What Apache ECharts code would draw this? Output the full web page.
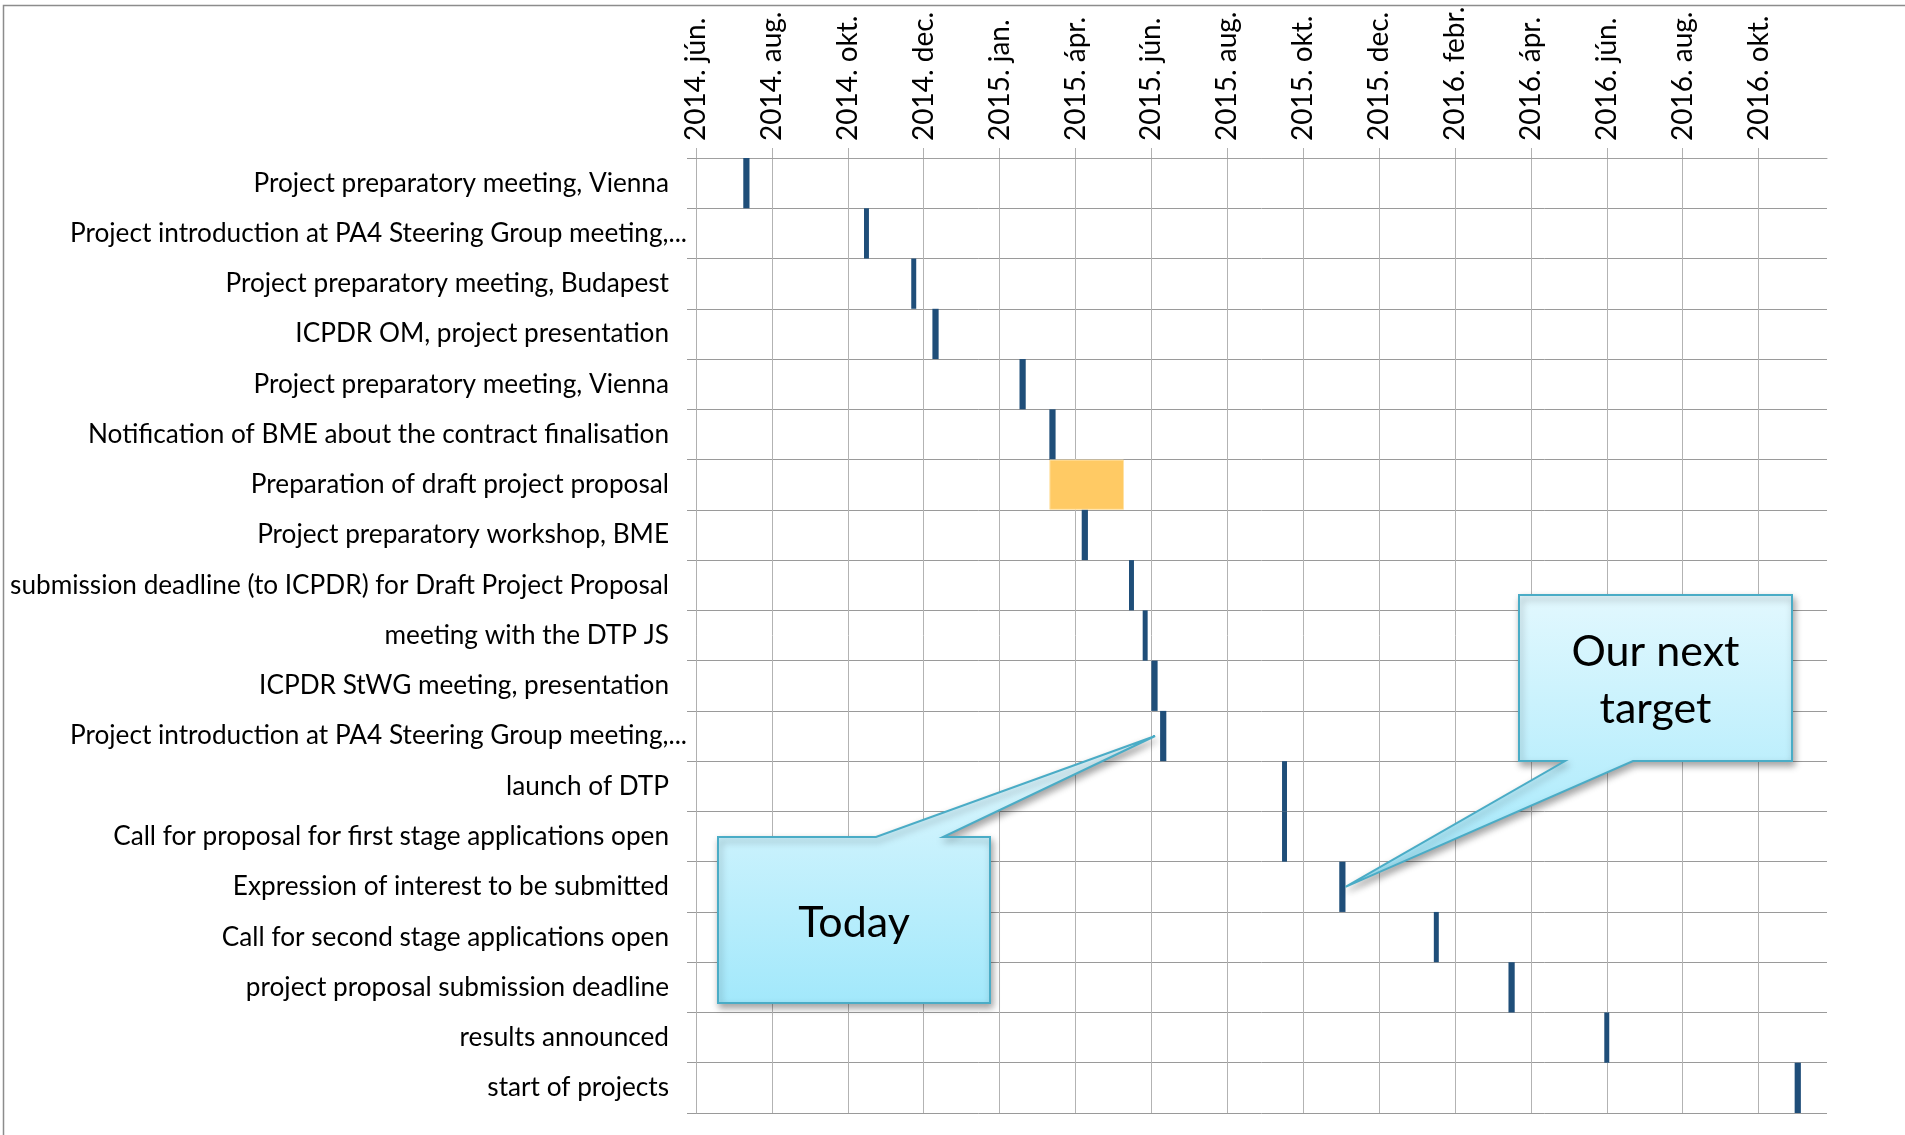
<!DOCTYPE html>
<html><head><meta charset="utf-8">
<script src="https://cdn.jsdelivr.net/npm/echarts@6/dist/echarts.min.js"></script>
<style>html,body{margin:0;padding:0;background:#fff}#c{width:1905px;height:1135px}</style>
</head><body><div id="c"></div>
<script>
// ---------- data ----------
const tasks = [
  'Project preparatory meeting, Vienna',
  'Project introduction at PA4 Steering Group meeting,...',
  'Project preparatory meeting, Budapest',
  'ICPDR OM, project presentation',
  'Project preparatory meeting, Vienna',
  'Notification of BME about the contract finalisation',
  'Preparation of draft project proposal',
  'Project preparatory workshop, BME',
  'submission deadline (to ICPDR) for Draft Project Proposal',
  'meeting with the DTP JS',
  'ICPDR StWG meeting, presentation',
  'Project introduction at PA4 Steering Group meeting,...',
  'launch of DTP',
  'Call for proposal for first stage applications open',
  'Expression of interest to be submitted',
  'Call for second stage applications open',
  'project proposal submission deadline',
  'results announced',
  'start of projects'
];
const startDates = [
  '2014-07-09','2014-10-14','2014-11-21','2014-12-08','2015-02-16','2015-03-12',
  '2015-03-12','2015-04-07','2015-05-15','2015-05-26','2015-06-02','2015-06-09',
  '2015-09-15','2015-09-15','2015-10-31','2016-01-15','2016-03-15','2016-05-31','2016-10-31'
];
const durations = [5,4,4,5,5,5,60,5,4,4,5,5,4,4,5,4,5,4,5];
const kinds = ['m','m','m','m','m','m','phase','m','m','m','m','m','m','m','m','m','m','m','m'];
const axisStart = '2014-06-01';
const axisEndDays = 909;
const tickStep = 61;
const tickLabels = ['2014. jún.','2014. aug.','2014. okt.','2014. dec.','2015. jan.','2015. ápr.',
  '2015. jún.','2015. aug.','2015. okt.','2015. dec.','2016. febr.','2016. ápr.','2016. jún.',
  '2016. aug.','2016. okt.'];
const todayCallout = {text: 'Today', date: '2015-06-05', row: 11};
const targetCallout = {text: 'Our next\ntarget', date: '2015-11-05', row: 14};

// ---------- helpers ----------
const DAY = 86400000;
function parseD(s){const [y,m,d]=s.split('-').map(Number);return Date.UTC(y,m-1,d);}
const t0 = parseD(axisStart);
const dayOf = s => (parseD(s) - t0) / DAY;
const offsets = startDates.map(dayOf);
const ticks = tickLabels.map((_, i) => i * tickStep);

const FONT = 'Lato';
const FSY = 26.2;
const FSX = 28;

const chart = echarts.init(document.getElementById('c'), null, {renderer: 'canvas'});
chart.setOption({
  animation: false,
  backgroundColor: '#fff',
  grid: {left: 696, top: 158, right: 78, bottom: 22, containLabel: false, outerBoundsMode: 'none'},
  xAxis: {
    type: 'value', position: 'top', min: 0, max: axisEndDays, interval: tickStep,
    axisLine: {show: true, lineStyle: {color: '#a0a0a0', width: 1}},
    axisTick: {show: true, length: 10, customValues: ticks, lineStyle: {color: '#b0b0b0'}},
    axisLabel: {
      customValues: ticks, rotate: -90, margin: 17,
      formatter: v => tickLabels[Math.round(v / tickStep)] || '',
      fontFamily: FONT, fontSize: FSX, color: '#000'
    },
    splitLine: {show: true, lineStyle: {color: '#b3b3b3', width: 1}}
  },
  yAxis: {
    type: 'category', inverse: true, data: tasks,
    axisLine: {show: true, lineStyle: {color: '#b0b0b0'}},
    axisTick: {show: true, length: 9, lineStyle: {color: '#9a9a9a'}},
    splitLine: {show: true, lineStyle: {color: '#9a9a9a', width: 1}},
    axisLabel: {
      margin: 9, interval: 0, color: '#000', fontFamily: FONT, fontSize: FSY,
      formatter: v => v.endsWith('...') ? '{o|' + v + '}' : '{n|' + v + '}{s| }',
      rich: {
        o: {fontFamily: FONT, fontSize: FSY, color: '#000'},
        n: {fontFamily: FONT, fontSize: FSY, color: '#000'},
        s: {width: 18, fontSize: FSY}
      }
    }
  },
  series: [
    {type: 'bar', stack: 'g', data: offsets, barWidth: '100%', silent: true,
     itemStyle: {color: 'rgba(0,0,0,0)'}},
    {type: 'bar', stack: 'g', barWidth: '100%',
     data: durations.map((d, i) => ({
       value: d,
       itemStyle: kinds[i] === 'phase'
         ? {color: '#FFCA64', borderColor: '#FFE2A6', borderWidth: 1}
         : {color: '#1F4E79'}
     }))}
  ]
});

function callout(box, tip, notch, label, lineH) {
  const pts = [];
  const [x1, y1, x2, y2] = box;
  if (notch.edge === 'top') {
    pts.push([x1, y1], [notch.a, y1], tip, [notch.b, y1], [x2, y1], [x2, y2], [x1, y2]);
  } else {
    pts.push([x1, y1], [x2, y1], [x2, y2], [notch.b, y2], tip, [notch.a, y2], [x1, y2]);
  }
  return [
    {type: 'polygon', z: 100, shape: {points: pts},
     style: {
       fill: new echarts.graphic.LinearGradient(0, 0, 0, 1, [
         {offset: 0, color: '#e2f8fe'}, {offset: 1, color: '#a2e8fb'}]),
       stroke: '#4aacc6', lineWidth: 2,
       shadowBlur: 7, shadowOffsetX: 2, shadowOffsetY: 4, shadowColor: 'rgba(0,0,0,0.35)'
     }},
    {type: 'text', z: 101,
     style: {text: label, x: (x1 + x2) / 2, y: (y1 + y2) / 2 + 3, align: 'center', verticalAlign: 'middle',
       fontFamily: FONT, fontSize: 43, lineHeight: lineH, fill: '#000'}}
  ];
}

const tipToday = chart.convertToPixel({xAxisIndex: 0, yAxisIndex: 0}, [dayOf(todayCallout.date), todayCallout.row]);
const tipTarget = chart.convertToPixel({xAxisIndex: 0, yAxisIndex: 0}, [dayOf(targetCallout.date), targetCallout.row]);

chart.setOption({
  graphic: [
    {type: 'rect', z: -10, shape: {x: 3.5, y: 5.5, width: 2400, height: 2400},
     style: {fill: null, stroke: '#8c8c8c', lineWidth: 1.5}, silent: true},
    ...callout([718, 837, 990, 1003], tipToday, {edge: 'top', a: 876, b: 943}, todayCallout.text, 57),
    ...callout([1519, 595, 1792, 761], tipTarget, {edge: 'bottom', a: 1565, b: 1633}, targetCallout.text, 57)
  ]
});
</script>
</body></html>
